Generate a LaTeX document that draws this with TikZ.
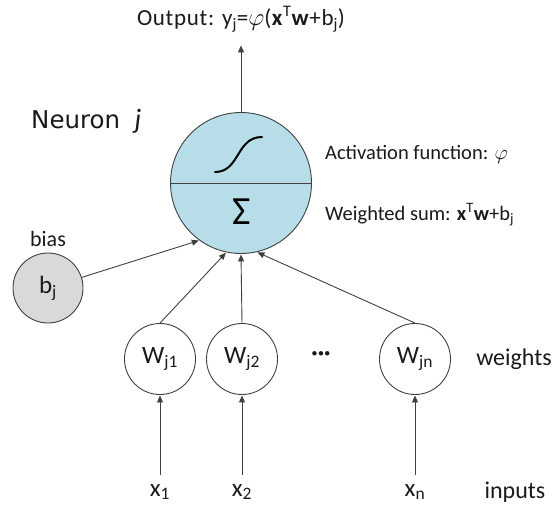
\documentclass[tikz,border=0pt]{standalone}
\usepackage{fontspec}
\setmainfont{Carlito}
\newfontfamily\verd{DejaVu Sans}
\usetikzlibrary{arrows.meta}
\definecolor{txt}{HTML}{1A1A1A}
\definecolor{ln}{HTML}{404040}
\definecolor{neuronfill}{HTML}{B7DEE8}
\definecolor{biasfill}{HTML}{D9D9D9}
\tikzset{
  conn/.style={draw=ln, line width=0.9pt, -{Triangle[length=7pt,width=6pt]}, shorten >=0.5pt},
  wcirc/.style={circle, draw=ln, line width=0.9pt, minimum size=71pt, inner sep=0pt, font=\fontsize{25}{27}\selectfont, text=txt},
  lab/.style={font=\fontsize{20.5}{22}\selectfont, text=txt, inner sep=0pt},
  biglab/.style={font=\fontsize{24}{26}\selectfont, text=txt, inner sep=0pt},
  inp/.style={font=\fontsize{25}{27}\selectfont, text=txt, inner sep=0pt},
}
\begin{document}
\begin{tikzpicture}[x=1pt,y=-1pt]
\useasboundingbox (0,0) rectangle (553,508);
% main neuron
\node (n) [circle, draw=ln, line width=0.9pt, fill=neuronfill, minimum size=141pt, inner sep=0pt] at (241,183) {};
\draw[ln, line width=0.9pt] (n.west) -- (n.east);
\draw[black, line width=2pt, line cap=round] (215,172) .. controls (240,172) and (236,137) .. (262,137);
\node (sig) [font=\fontsize{40}{42}\selectfont, text=black, inner sep=0pt] at (242,212) {Σ};
% output
\coordinate (out) at (241,45);
\draw[conn] (n.north) -- (out);
\node (outlab) [font=\fontsize{23}{25}\selectfont, text=txt, inner sep=0pt, anchor=base] at (241,26) {\addfontfeature{LetterSpace=3}Output: y\textsubscript{j}=$\varphi$(\textbf{x}\textsuperscript{T}\textbf{w}+b\textsubscript{j})};
% neuron label
\node (neu) [font=\verd\fontsize{24.5}{26}\selectfont, text=txt, inner sep=0pt, anchor=base west] at (31,128) {Neuron};
\node (neuj) [font=\fontsize{28}{30}\selectfont, text=txt, inner sep=0pt, anchor=base] at (138,128) {$\mathit{j}$};
% side labels
\node (act) [lab, anchor=base west] at (325,159) {Activation function: $\varphi$};
\node (ws) [lab, anchor=base west] at (325,220) {Weighted sum: \textbf{x}\textsuperscript{T}\textbf{w}+b\textsubscript{j}};
% bias
\node (bias) [circle, draw=ln, line width=0.9pt, fill=biasfill, minimum size=70pt, inner sep=0pt, font=\fontsize{25}{27}\selectfont, text=txt] at (48,288) {b\textsubscript{j}};
\node (biaslab) [font=\fontsize{22}{24}\selectfont, text=txt, inner sep=0pt] at (48,239) {bias};
\draw[conn] (bias) -- (n.234);
% weights
\node (w1) [wcirc] at (160,359) {W\textsubscript{j1}};
\node (w2) [wcirc] at (242,359) {W\textsubscript{j2}};
\node (wn) [wcirc] at (415,359) {W\textsubscript{jn}};
\node (dots) [biglab] at (321,356) {\textbf{\textperiodcentered\textperiodcentered\textperiodcentered}};
\node (wlab) [biglab] at (514,359) {weights};
\node (ilab) [biglab] at (515,492) {inputs};
\draw[conn] (w1.north) -- (n.258);
\draw[conn] (w2.north) -- (n.south);
\draw[conn] (wn.north) -- (n.283);
% inputs
\node (x1) [inp] at (160,492) {x\textsubscript{1}};
\node (x2) [inp] at (242,492) {x\textsubscript{2}};
\node (xn) [inp] at (415,492) {x\textsubscript{n}};
\draw[conn] (160,475) -- (w1.south);
\draw[conn] (242,475) -- (w2.south);
\draw[conn] (415,475) -- (wn.south);
\end{tikzpicture}
\end{document}
